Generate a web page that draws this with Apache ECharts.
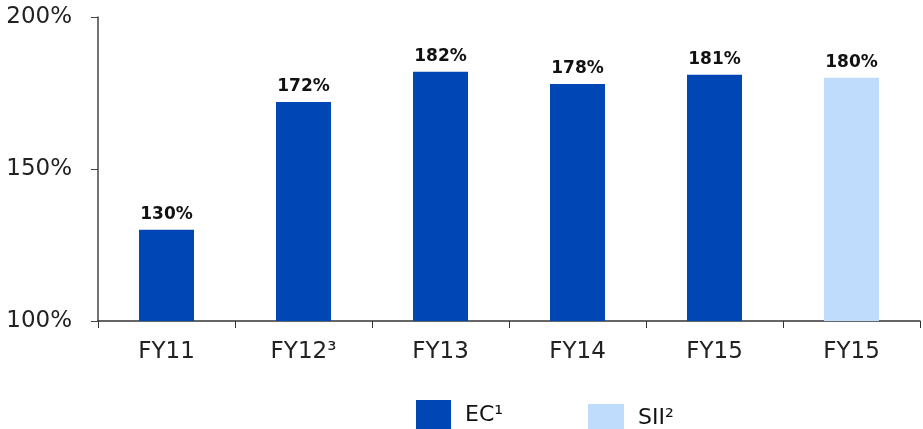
<!DOCTYPE html>
<html>
<head>
<meta charset="utf-8">
<script src="https://cdn.jsdelivr.net/npm/echarts@6/dist/echarts.min.js"></script>
<style>
  html, body { margin: 0; padding: 0; background: #fff; }
  #chart { width: 923px; height: 429px; }
</style>
</head>
<body>
<div id="chart"></div>
<script>
// categories and values
const categories = ["FY11", "FY12³", "FY13", "FY14", "FY15", "FY15"];
const ecValues = [130, 172, 182, 178, 181, null];
const siiValues = [null, null, null, null, null, 180];
const yTicks = [100, 150, 200];

const darkBlue = "#0047b5";
const lightBlue = "#bfdcfd";
const font = "DejaVu Sans";

let myChart = echarts.init(document.getElementById("chart"));

const barLabel = {
  show: true,
  position: "top",
  distance: 7,
  formatter: p => p.value + "%",
  fontFamily: font,
  fontWeight: "bold",
  fontSize: 17,
  color: "#111"
};

myChart.setOption({
  animation: false,
  grid: { left: 98, right: 3, top: 17, bottom: 108 },
  legend: [
    {
      data: ["EC¹"],
      left: 411, top: 395,
      itemWidth: 35, itemHeight: 30,
      icon: "rect",
      textStyle: { fontFamily: font, fontSize: 22, color: "#111", padding: [0, 0, 0, 9] }
    },
    {
      data: ["SII²"],
      left: 583, top: 399,
      itemWidth: 36, itemHeight: 29,
      icon: "rect",
      textStyle: { fontFamily: font, fontSize: 22, color: "#111", padding: [0, 0, 0, 9] }
    }
  ],
  xAxis: {
    type: "category",
    data: categories,
    axisLine: { lineStyle: { color: "#333", width: 1.5 } },
    axisTick: { show: true, length: 7, lineStyle: { color: "#333" } },
    axisLabel: { margin: 20, fontFamily: font, fontSize: 23, color: "#222" }
  },
  yAxis: {
    type: "value",
    min: yTicks[0],
    max: yTicks[yTicks.length - 1],
    interval: 50,
    axisLine: { show: true, lineStyle: { color: "#444", width: 1.5 } },
    axisTick: { show: true, length: 7, lineStyle: { color: "#444" } },
    splitLine: { show: false },
    axisLabel: { margin: 26, fontFamily: font, fontSize: 23, color: "#222", formatter: "{value}%" }
  },
  series: [
    {
      name: "EC¹",
      type: "bar",
      data: ecValues,
      barWidth: 55,
      barGap: "-100%",
      itemStyle: { color: darkBlue },
      label: barLabel
    },
    {
      name: "SII²",
      type: "bar",
      data: siiValues,
      barWidth: 55,
      itemStyle: { color: lightBlue },
      label: barLabel
    }
  ]
});
</script>
</body>
</html>
